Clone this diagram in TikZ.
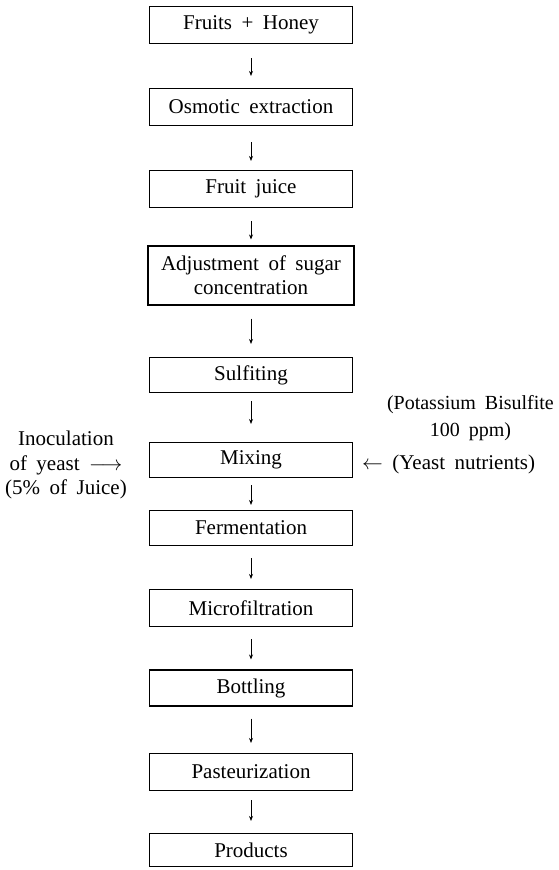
\documentclass[tikz,border=0pt]{standalone}
\usepackage{fontspec}
\setmainfont[WordSpace=1.8]{Liberation Serif}
\usepackage{tikz}
\usetikzlibrary{arrows.meta}

\begin{document}
\begin{tikzpicture}[x=1pt,y=-1pt,
  stage/.style={draw, line width=1.1pt, minimum width=203pt, minimum height=37pt, inner sep=2pt, align=center, font=\fontsize{21}{24}\selectfont},
  note/.style={align=center, inner sep=0pt, font=\fontsize{21}{24.5}\selectfont},
  flow/.style={-{Stealth[length=5pt,width=4pt]}, line width=0.7pt, shorten <=12pt, shorten >=10pt}]
\useasboundingbox (0,0) rectangle (558,870);

\node[stage] (fruits) at (251,25) {Fruits + Honey};
\node[stage] (osmotic) at (251,107) {Osmotic extraction};
\node[stage] (juice) at (251,189) {Fruit juice};
\node[stage, minimum width=206pt, minimum height=59pt] (adjust) at (251,275.5) {Adjustment of sugar\\concentration};
\node[stage, minimum height=35pt] (sulfite) at (251,375) {Sulfiting};
\node[stage, minimum height=35pt] (mixing) at (251,460) {Mixing};
\node[stage, minimum height=35pt] (ferment) at (251,528) {Fermentation};
\node[stage] (filter) at (251,608) {Microfiltration};
\node[stage, minimum height=36pt] (bottling) at (251,688) {Bottling};
\node[stage] (pasteur) at (251,772) {Pasteurization};
\node[stage, minimum height=33pt] (products) at (251,850) {Products};

\node[note, font=\fontsize{20}{27}\selectfont, anchor=east] (bisulfite) at (554,418) {(Potassium Bisulfite\\100 ppm)};
\node[note, anchor=west] (nutrients) at (362,464) {$\leftarrow$ (Yeast nutrients)};
\node[note] (yeast) at (66,465) {Inoculation\\of yeast $\longrightarrow$\\(5\% of Juice)};

\draw[flow, shorten <=14pt, shorten >=12pt] (fruits) -- (osmotic);
\draw[flow, shorten <=16pt, shorten >=9pt] (osmotic) -- (juice);
\draw[flow, shorten <=13pt, shorten >=6pt] (juice) -- (juice |- adjust.north);
\draw[flow, shorten <=13pt, shorten >=13pt] (adjust.south -| sulfite) -- (sulfite);
\draw[flow, shorten <=8pt, shorten >=18pt] (sulfite) -- (mixing);
\draw[flow, shorten <=7pt, shorten >=5pt] (mixing) -- (ferment);
\draw[flow] (ferment) -- (filter);
\draw[flow] (filter) -- (bottling);
\draw[flow] (bottling) -- (pasteur);
\draw[flow, shorten <=9pt, shorten >=12pt] (pasteur) -- (products);
\end{tikzpicture}
\end{document}
